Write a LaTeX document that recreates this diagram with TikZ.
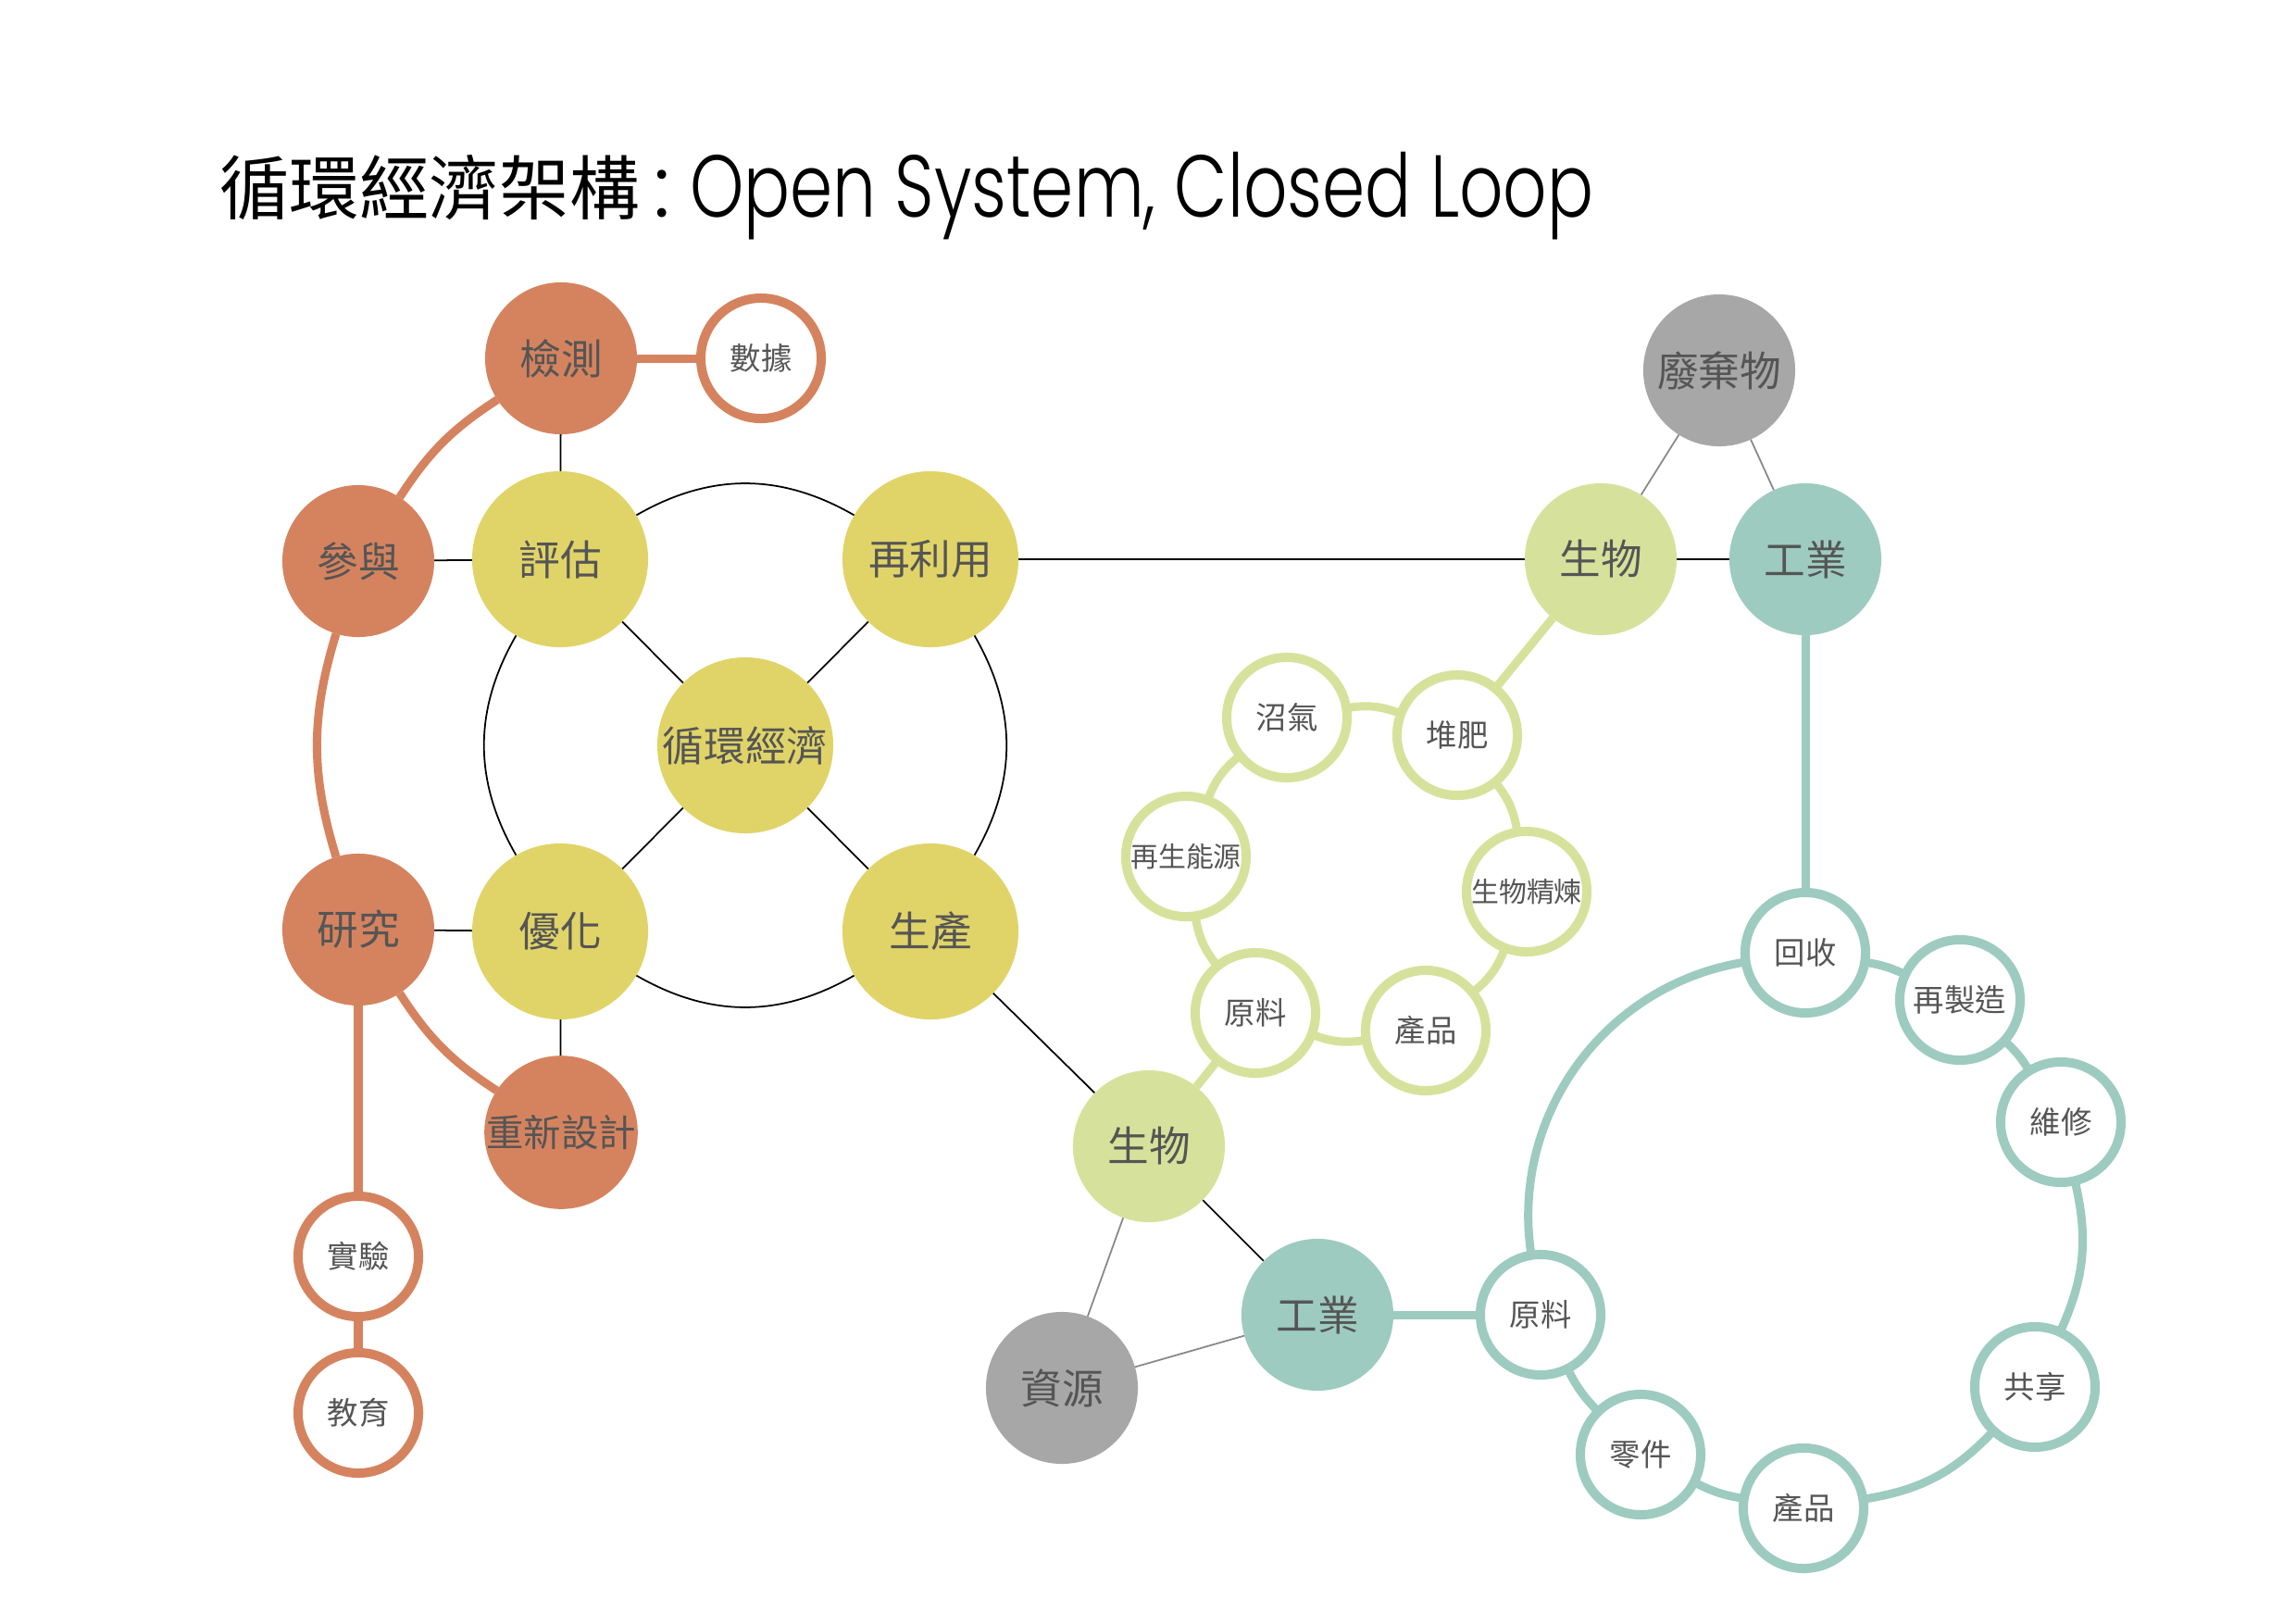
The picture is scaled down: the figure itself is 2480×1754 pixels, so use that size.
\documentclass[tikz,border=0pt]{standalone}
\usepackage{fontspec}
\usepackage{graphicx}
\usetikzlibrary{calc}
\newfontfamily\cjk{Noto Sans CJK TC}
\newfontfamily\pop{Poppins}[UprightFont={* Light}]
\definecolor{orng}{HTML}{D5835F}
\definecolor{ylw}{HTML}{E0D468}
\definecolor{grn}{HTML}{D6E29B}
\definecolor{tl}{HTML}{9DCBBF}
\definecolor{gry}{HTML}{A8A7A8}
\definecolor{txt}{HTML}{555555}
\definecolor{thingry}{HTML}{888888}
\pgfdeclarelayer{bg}
\pgfsetlayers{bg,main}
\begin{document}
\begin{tikzpicture}[x=0.01cm,y=0.01cm,
  every node/.style={inner sep=0pt, outer sep=0pt, text=txt},
  yball/.style={circle, fill=ylw, minimum size=1.9cm, font=\cjk\fontsize{12.7}{15}\selectfont},
  ball/.style={circle, fill=#1, minimum size=1.64cm, font=\cjk\fontsize{12.7}{15}\selectfont},
  ringnode/.style={circle, fill=white, draw=#1, line width=0.1cm, minimum size=1.3cm, font=\cjk\fontsize{9.5}{11}\selectfont},
  smalltext/.style={font=\cjk\fontsize{8.5}{10}\selectfont},
  thinline/.style={line width=0.5pt, black},
  greyline/.style={line width=0.5pt, thingry},
  heavy/.style={line width=0.09cm, #1},
]
\useasboundingbox (0,0) rectangle (2480,-1754);
\begin{pgfonlayer}{bg}
\fill[white] (0,0) rectangle (2480,-1754);
\end{pgfonlayer}

% title
\node[anchor=base west, text=black, font=\cjk\fontsize{21.5}{26}\selectfont] (tcjk) at (237,-231) {循環經濟架構};
\node[anchor=base, text=black, font=\pop\fontsize{27}{32}\selectfont] (tcolon) at (715,-234) {:};
\node[anchor=base west, text=black] (tlatin) at (745,-234) {\resizebox{277.7pt}{\height}{\pop\fontsize{27}{32}\selectfont Open System, Closed Loop}};

% yellow core
\coordinate (yc) at (805,-805);
\node[yball] (xh) at (yc) {循環經濟};
\node[yball] (pg) at (605,-604) {評估};
\node[yball] (zly) at (1005,-604) {再利用};
\node[yball] (yh) at (605,-1006) {優化};
\node[yball] (sc) at (1005,-1006) {生產};

% orange
\node[ball=orng] (jc) at (606,-387) {檢測};
\node[ball=orng] (cy) at (387,-606) {參與};
\node[ball=orng] (yj) at (387,-1004) {研究};
\node[ball=orng, font=\cjk\fontsize{11.5}{14}\selectfont] (cxsj) at (606,-1223) {重新設計};
\node[ringnode=orng] (sj) at (822,-387) {數據};
\node[ringnode=orng] (sy) at (387,-1357) {實驗};
\node[ringnode=orng] (jy) at (387,-1526) {教育};

% right top
\node[ball=gry] (fqw) at (1857,-400) {廢棄物};
\node[ball=grn] (sw1) at (1729,-604) {生物};
\node[ball=tl] (gy1) at (1950,-604) {工業};

% lower middle
\node[ball=grn] (sw2) at (1241,-1238) {生物};
\node[ball=tl] (gy2) at (1423,-1420) {工業};
\node[ball=gry] (zy) at (1147,-1499) {資源};

% green ring
\node[ringnode=grn] (zq) at (1390,-775) {沼氣};
\node[ringnode=grn] (df) at (1574,-794) {堆肥};
\node[ringnode=grn, smalltext] (swjl) at (1649,-963) {生物精煉};
\node[ringnode=grn] (cp1) at (1540,-1113) {產品};
\node[ringnode=grn] (yl1) at (1356,-1094) {原料};
\node[ringnode=grn, smalltext] (zsny) at (1281,-925) {再生能源};

% teal ring
\node[ringnode=tl] (hs) at (1950,-1029) {回收};
\node[ringnode=tl] (zzz) at (2117,-1080) {再製造};
\node[ringnode=tl] (wx) at (2226,-1212) {維修};
\node[ringnode=tl] (gx) at (2198,-1498) {共享};
\node[ringnode=tl] (cp2) at (1948,-1629) {產品};
\node[ringnode=tl] (lj) at (1772,-1571) {零件};
\node[ringnode=tl] (yl2) at (1664,-1420) {原料};

\begin{pgfonlayer}{bg}
% thin black
\draw[thinline] (pg) -- (jc);
\draw[thinline] (pg) -- (cy);
\draw[thinline] (yh) -- (yj);
\draw[thinline] (yh) -- (cxsj);
\draw[thinline] (xh) -- (pg);
\draw[thinline] (xh) -- (zly);
\draw[thinline] (xh) -- (yh);
\draw[thinline] (xh) -- (sc);
\draw[thinline] (pg) to[bend left=30] (zly);
\draw[thinline] (zly) to[bend left=30] (sc);
\draw[thinline] (sc) to[bend left=30] (yh);
\draw[thinline] (yh) to[bend left=30] (pg);
\draw[thinline] (zly) -- (sw1);
\draw[thinline] (sw1) -- (gy1);
\draw[thinline] (sc) -- (sw2);
\draw[thinline] (sw2) -- (gy2);
% thin grey
\draw[greyline] (fqw) -- (sw1);
\draw[greyline] (fqw) -- (gy1);
\draw[greyline] (zy) -- (sw2);
\draw[greyline] (zy) -- (gy2);
% orange heavy
\draw[heavy=orng] (jc) to[bend right=12] (cy);
\draw[heavy=orng] (cy) to[bend right=17] (yj);
\draw[heavy=orng] (yj) to[bend right=12] (cxsj);
\draw[heavy=orng] (jc) -- (sj);
\draw[heavy=orng] (yj) -- (sy);
\draw[heavy=orng] (sy) -- (jy);
% green heavy
\draw[heavy=grn] (sw1) -- (df);
\draw[heavy=grn] (sw2) -- (yl1);
\draw[heavy=grn] (zq) to[bend left=15] (df);
\draw[heavy=grn] (df) to[bend left=15] (swjl);
\draw[heavy=grn] (swjl) to[bend left=15] (cp1);
\draw[heavy=grn] (cp1) to[bend left=15] (yl1);
\draw[heavy=grn] (yl1) to[bend left=15] (zsny);
\draw[heavy=grn] (zsny) to[bend left=15] (zq);
% teal heavy
\draw[heavy=tl] (gy1) -- (hs);
\draw[heavy=tl] (gy2) -- (yl2);
\draw[heavy=tl] (hs) to[bend left=8] (zzz);
\draw[heavy=tl] (zzz) to[bend left=8] (wx);
\draw[heavy=tl] (wx) to[bend left=19] (gx);
\draw[heavy=tl] (gx) to[bend left=19] (cp2);
\draw[heavy=tl] (cp2) to[bend left=9] (lj);
\draw[heavy=tl] (lj) to[bend left=9] (yl2);
\draw[heavy=tl] (yl2) to[bend left=45] (hs);
\end{pgfonlayer}
\end{tikzpicture}
\end{document}
